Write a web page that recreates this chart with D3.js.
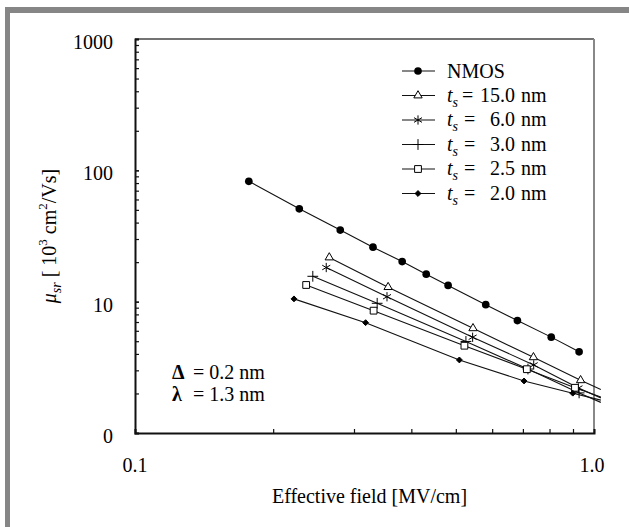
<!DOCTYPE html>
<html>
<head>
<meta charset="utf-8">
<script src="https://cdn.jsdelivr.net/npm/d3@7"></script>
<style>
  html, body { margin: 0; padding: 0; background: #fff; }
  svg { display: block; font-family: "Liberation Serif", "Times New Roman", serif; }
</style>
</head>
<body>
<svg id="chart" width="629" height="527"></svg>
<script>
// values
const nmosField = [0.177, 0.228, 0.280, 0.330, 0.382, 0.431, 0.481, 0.581, 0.681, 0.807, 0.928];
const nmosMob   = [82.5, 50.9, 35.1, 26.0, 20.2, 16.2, 13.3, 9.49, 7.18, 5.37, 4.15];

// last point of each ts series lies past the right axis (line runs out of the frame)
const ts150Field = [0.265, 0.356, 0.545, 0.738, 0.935, 1.035];
const ts150Mob   = [21.7, 12.9, 6.27, 3.77, 2.52, 2.14];
const ts60Field  = [0.261, 0.354, 0.544, 0.739, 0.925, 1.035];
const ts60Mob    = [18.2, 10.9, 5.36, 3.30, 2.20, 1.85];
const ts30Field  = [0.244, 0.337, 0.526, 0.718, 0.928, 1.035];
const ts30Mob    = [15.6, 9.72, 4.98, 3.07, 2.02, 1.71];
const ts25Field  = [0.236, 0.331, 0.522, 0.714, 0.909, 1.035];
const ts25Mob    = [13.4, 8.54, 4.62, 3.06, 2.21, 1.88];
const ts20Field  = [0.222, 0.318, 0.509, 0.704, 0.899, 1.035];
const ts20Mob    = [10.5, 6.92, 3.60, 2.49, 2.01, 1.78];

const legendNames  = ['NMOS', '15.0', '6.0', '3.0', '2.5', '2.0'];
const yTickValues  = [1, 10, 100, 1000];
const yTickLabels  = ['0', '10', '100', '1000'];
const xTickValues  = [0.1, 1];
const xTickLabels  = ['0.1', '1.0'];

(function() {

    const zip = (xs, ys) => xs.map((x, i) => ({ x, y: ys[i] }));

    const series = [
        { name: legendNames[0], pts: zip(nmosField, nmosMob),   sym: d3.symbolCircle,   size: 46, fill: '#000', stroke: 'none' },
        { name: legendNames[1], pts: zip(ts150Field, ts150Mob), sym: d3.symbolTriangle, size: 30, fill: '#fff', stroke: '#000' },
        { name: legendNames[2], pts: zip(ts60Field, ts60Mob),   sym: d3.symbolAsterisk, size: 60, fill: 'none', stroke: '#000' },
        { name: legendNames[3], pts: zip(ts30Field, ts30Mob),   sym: d3.symbolPlus,     size: 40, fill: 'none', stroke: '#000' },
        { name: legendNames[4], pts: zip(ts25Field, ts25Mob),   sym: d3.symbolSquare,   size: 46, fill: '#fff', stroke: '#000' },
        { name: legendNames[5], pts: zip(ts20Field, ts20Mob),   sym: d3.symbolDiamond2, size: 22, fill: '#000', stroke: '#000' }
    ];

    const pLeft = 135, pRight = 594, pTop = 39, pBottom = 433;

    const svg = d3.select('#chart');

    // grey frame
    svg.append('rect').attr('x', 5).attr('y', 7).attr('width', 624).attr('height', 6).attr('fill', '#868686');
    svg.append('rect').attr('x', 5).attr('y', 7).attr('width', 5).attr('height', 520).attr('fill', '#868686');

    // Scales
    const x = d3.scaleLog().domain([0.1, 1]).range([pLeft, pRight]);
    const y = d3.scaleLog().domain([1, 1000]).range([pBottom, pTop]);

    // box top / right
    svg.append('line').attr('x1', pLeft).attr('x2', pRight).attr('y1', pTop).attr('y2', pTop)
        .attr('stroke', '#444').attr('stroke-width', 1.5);
    svg.append('line').attr('x1', pRight).attr('x2', pRight).attr('y1', pTop).attr('y2', pBottom)
        .attr('stroke', '#888').attr('stroke-width', 2);

    // Axes (ticks point inward)
    const minorY = [];
    for (let e = 0; e < 3; e++) for (let m = 1; m <= 10; m++) minorY.push(m * Math.pow(10, e));
    const yAxis = d3.axisRight(y).tickValues(minorY).tickSize(4).tickFormat('');
    svg.append('g')
        .attr('transform', `translate(${pLeft},0)`)
        .call(yAxis)
        .call(g => g.select('.domain').attr('stroke', '#111').attr('stroke-width', 2))
        .call(g => g.selectAll('.tick line').attr('stroke', '#111').attr('stroke-width', 1.2));

    const minorX = d3.range(1, 11).map(m => m / 10);
    const xAxis = d3.axisTop(x).tickValues(minorX).tickSize(4).tickFormat('');
    svg.append('g')
        .attr('transform', `translate(0,${pBottom})`)
        .call(xAxis)
        .call(g => g.select('.domain').attr('stroke', '#111').attr('stroke-width', 2))
        .call(g => g.selectAll('.tick line').attr('stroke', '#111').attr('stroke-width', 1.2));

    // tick labels
    svg.append('g').selectAll('text')
        .data(yTickValues)
        .enter().append('text')
        .attr('x', pLeft - 22)
        .attr('y', d => y(d) + 10)
        .attr('text-anchor', 'end')
        .attr('font-size', 20)
        .text((d, i) => yTickLabels[i]);

    svg.append('g').selectAll('text')
        .data(xTickValues)
        .enter().append('text')
        .attr('x', (d, i) => x(d) - (i === 1 ? 2 : 0))
        .attr('y', 472)
        .attr('text-anchor', 'middle')
        .attr('font-size', 20)
        .text((d, i) => xTickLabels[i]);

    // axis titles
    svg.append('text')
        .attr('x', (pLeft + pRight) / 2 + 5)
        .attr('y', 503)
        .attr('text-anchor', 'middle')
        .attr('font-size', 20)
        .text('Effective field [MV/cm]');

    const yTitle = svg.append('text')
        .attr('transform', `translate(56,${(pTop + pBottom) / 2}) rotate(-90)`)
        .attr('text-anchor', 'middle')
        .attr('font-size', 20);
    yTitle.append('tspan').attr('font-style', 'italic').text('\u03bc');
    yTitle.append('tspan').attr('font-style', 'italic').attr('font-size', 14).attr('dy', 5).text('sr');
    yTitle.append('tspan').attr('dy', -5).text(' [ 10');
    yTitle.append('tspan').attr('font-size', 13).attr('dy', -9).text('3');
    yTitle.append('tspan').attr('dy', 9).text(' cm');
    yTitle.append('tspan').attr('font-size', 13).attr('dy', -9).text('2');
    yTitle.append('tspan').attr('dy', 9).text('/Vs]');

    // clip so the extended lines stop just past the right axis
    svg.append('clipPath').attr('id', 'clip')
        .append('rect').attr('x', pLeft).attr('y', pTop).attr('width', 601 - pLeft).attr('height', pBottom - pTop);

    const line = d3.line().x(d => x(d.x)).y(d => y(d.y));

    const plot = svg.append('g');
    plot.selectAll('path.series')
        .data(series)
        .enter().append('path')
        .attr('class', 'series')
        .attr('clip-path', 'url(#clip)')
        .attr('d', d => line(d.pts))
        .attr('fill', 'none')
        .attr('stroke', '#111')
        .attr('stroke-width', 1.1);

    series.forEach(s => {
        plot.append('g').selectAll('path')
            .data(s.pts.filter(p => p.x <= 1))
            .enter().append('path')
            .attr('transform', p => `translate(${x(p.x)},${y(p.y)})`)
            .attr('d', d3.symbol(s.sym, s.size))
            .attr('fill', s.fill)
            .attr('stroke', s.stroke)
            .attr('stroke-width', 1);
    });

    // Legend
    const legendRowY = d3.scaleLinear().domain([0, 5]).range([71, 193.5]);
    const legend = svg.append('g');
    series.forEach((s, i) => {
        const ry = legendRowY(i);
        legend.append('line').attr('x1', 402).attr('x2', 435).attr('y1', ry).attr('y2', ry)
            .attr('stroke', '#111').attr('stroke-width', 1.1);
        legend.append('path')
            .attr('transform', `translate(418,${ry})`)
            .attr('d', d3.symbol(s.sym, s.size))
            .attr('fill', s.fill)
            .attr('stroke', s.stroke)
            .attr('stroke-width', 1);
        if (i === 0) {
            legend.append('text').attr('x', 447).attr('y', ry + 7).attr('font-size', 20).text(s.name);
        } else {
            const t = legend.append('text').attr('x', 447).attr('y', ry + 6).attr('font-size', 20).attr('font-style', 'italic');
            t.append('tspan').text('t');
            t.append('tspan').attr('font-size', 14).attr('dy', 5).text('s');
            legend.append('text').attr('x', i === 1 ? 462 : 464).attr('y', ry + 6).attr('font-size', 20).text('=');
            legend.append('text').attr('x', 515).attr('y', ry + 6).attr('font-size', 20).attr('text-anchor', 'end').text(s.name);
            legend.append('text').attr('x', 521).attr('y', ry + 6).attr('font-size', 20).text('nm');
        }
    });

    // parameter note
    const note = svg.append('g');
    note.append('text').attr('x', 172).attr('y', 379).attr('font-size', 20).attr('font-weight', 'bold').text('\u0394');
    note.append('text').attr('x', 193).attr('y', 379).attr('font-size', 20).text('= 0.2 nm');
    note.append('text').attr('x', 172).attr('y', 401).attr('font-size', 20).attr('font-weight', 'bold').text('\u03bb');
    note.append('text').attr('x', 193).attr('y', 401).attr('font-size', 20).text('= 1.3 nm');

})();
</script>
</body>
</html>
